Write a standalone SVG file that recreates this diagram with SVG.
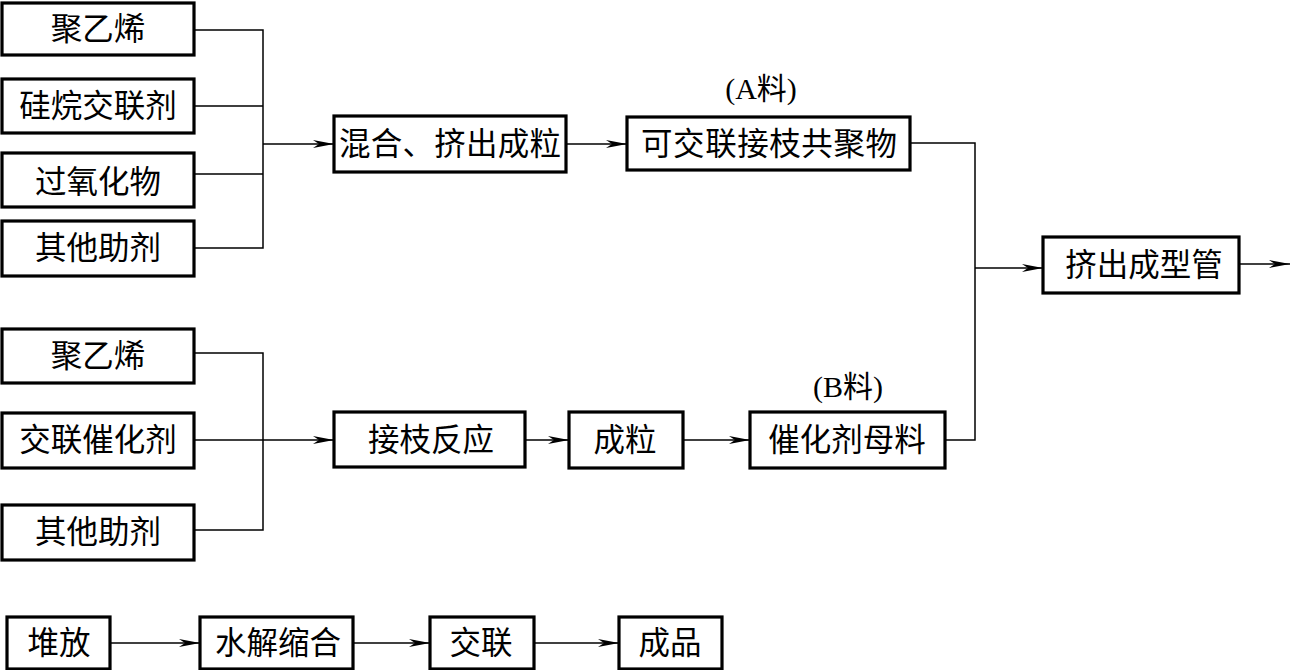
<svg xmlns="http://www.w3.org/2000/svg" width="1295" height="670" viewBox="0 0 1295 670">
<style>
.box{fill:#fff;stroke:#000;stroke-width:3.2}
.t{font-family:"Liberation Serif","Noto Sans CJK SC",serif;font-size:31.5px;fill:#000;text-anchor:middle;dominant-baseline:central}
.lbl{font-family:"Liberation Serif","Noto Sans CJK SC",serif;font-size:30px;fill:#000;text-anchor:middle;dominant-baseline:central}
.c{fill:none;stroke:#000;stroke-width:1.5}
.a{fill:none;stroke:#000;stroke-width:1.5;marker-end:url(#ar)}
</style>
<defs>
<marker id="ar" markerUnits="userSpaceOnUse" markerWidth="22" markerHeight="10" refX="21" refY="4.5" orient="auto">
<path d="M0,0.5 L21,4.5 L0,8.5 L6,4.5 z" fill="#000"/>
</marker>
</defs>
<rect width="1295" height="670" fill="#fff"/>
<g id="connectors">
<path class="c" d="M194,30 H263 V248 H194 M194,106 H263 M194,174 H263"/>
<path class="a" d="M263,144 H334"/>
<path class="a" d="M566,144 H627"/>
<path class="c" d="M910,143 H975 V440 H945"/>
<path class="a" d="M975,268 H1043"/>
<path class="a" d="M1239,264 H1290"/>
<path class="c" d="M194,353 H263 V530 H194"/>
<path class="a" d="M194,440 H334"/>
<path class="a" d="M525,440 H569"/>
<path class="a" d="M683,440 H750"/>
<path class="a" d="M110,643 H200"/>
<path class="a" d="M353,643 H430"/>
<path class="a" d="M534,643 H619"/>
</g>
<g id="n1"><rect class="box" x="2" y="3" width="192" height="52"/><text class="t" x="98" y="29">聚乙烯</text></g>
<g id="n2"><rect class="box" x="2" y="79" width="192" height="54"/><text class="t" x="98" y="106">硅烷交联剂</text></g>
<g id="n3"><rect class="box" x="2" y="153" width="192" height="54"/><text class="t" x="98" y="182">过氧化物</text></g>
<g id="n4"><rect class="box" x="2" y="221" width="192" height="55"/><text class="t" x="98" y="248">其他助剂</text></g>
<g id="n5"><rect class="box" x="334" y="116" width="232" height="56"/><text class="t" x="450" y="144" textLength="222" lengthAdjust="spacing">混合、挤出成粒</text></g>
<g id="n6"><rect class="box" x="627" y="117" width="283" height="53"/><text class="t" x="769" y="144" textLength="256" lengthAdjust="spacing">可交联接枝共聚物</text><text class="lbl" x="761" y="88">(A料)</text></g>
<g id="n7"><rect class="box" x="1043" y="237" width="196" height="56"/><text class="t" x="1144" y="265">挤出成型管</text></g>
<g id="n8"><rect class="box" x="2" y="329" width="192" height="54"/><text class="t" x="98" y="356">聚乙烯</text></g>
<g id="n9"><rect class="box" x="2" y="413" width="192" height="55"/><text class="t" x="98" y="440">交联催化剂</text></g>
<g id="n10"><rect class="box" x="2" y="505" width="192" height="55"/><text class="t" x="98" y="532">其他助剂</text></g>
<g id="n11"><rect class="box" x="334" y="412" width="191" height="55"/><text class="t" x="431" y="440">接枝反应</text></g>
<g id="n12"><rect class="box" x="569" y="412" width="114" height="56"/><text class="t" x="625" y="440">成粒</text></g>
<g id="n13"><rect class="box" x="750" y="412" width="195" height="56"/><text class="t" x="847" y="440">催化剂母料</text><text class="lbl" x="848" y="386">(B料)</text></g>
<g id="n14"><rect class="box" x="7" y="617" width="103" height="52"/><text class="t" x="59" y="643">堆放</text></g>
<g id="n15"><rect class="box" x="200" y="617" width="153" height="52"/><text class="t" x="278" y="643">水解缩合</text></g>
<g id="n16"><rect class="box" x="430" y="617" width="104" height="52"/><text class="t" x="481" y="643">交联</text></g>
<g id="n17"><rect class="box" x="619" y="617" width="103" height="52"/><text class="t" x="670" y="643">成品</text></g>
</svg>
